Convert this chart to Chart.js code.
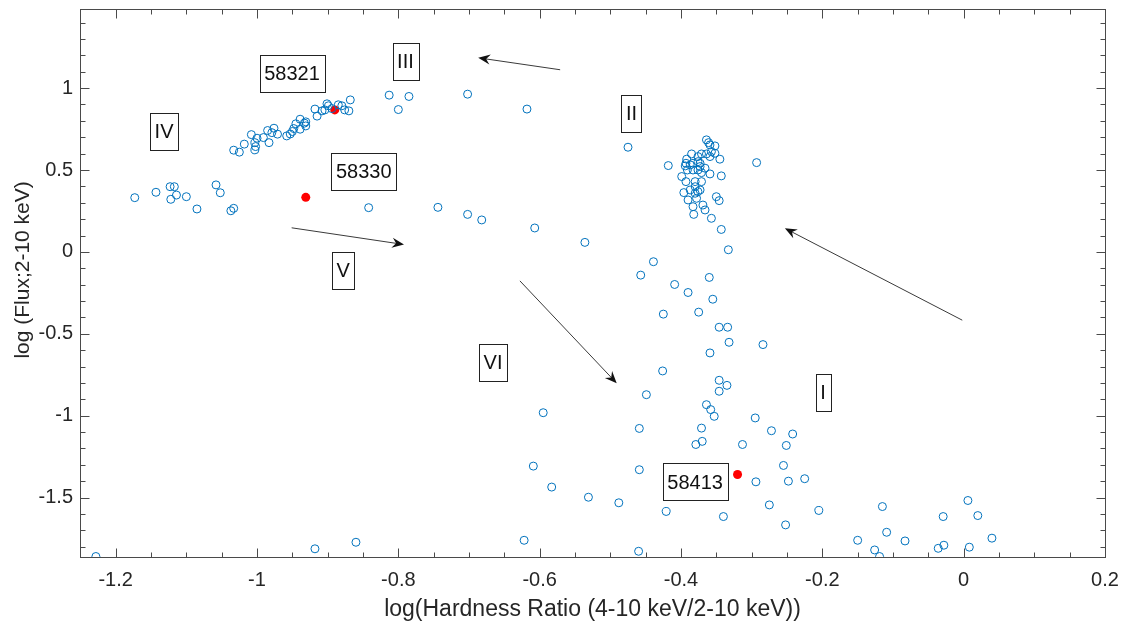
<!DOCTYPE html>
<html>
<head>
<meta charset="utf-8">
<script src="https://cdn.jsdelivr.net/npm/chart.js@4.4.1/dist/chart.umd.min.js"></script>
<style>
	html, body { margin: 0; padding: 0; background: #fff; }
	#wrap { width: 1124px; height: 623px; }
</style>
</head>
<body>
<div id="wrap"><canvas id="myChart" width="1124" height="623"></canvas></div>
<script>
// log(hardness ratio) and log(flux) of every observation (open circles)
var hardness = [
	-1.228, -0.918, -0.860,
	-1.173, -1.143, -1.123, -1.117, -1.122, -1.114, -1.100, -1.085, -1.058, -1.052, -1.037, -1.033, -0.842,
	-1.033, -1.025, -1.018, -1.008, -1.003, -1.002, -1.003, -1.000, -0.991, -0.985, -0.983, -0.979, -0.976,
	-0.971, -0.958, -0.953, -0.950, -0.948, -0.945, -0.939, -0.939, -0.933, -0.931, -0.931, -0.918, -0.915,
	-0.908, -0.904, -0.901, -0.899, -0.894, -0.885, -0.880, -0.876, -0.870, -0.868, -0.813, -0.800,
	-0.785, -0.702, -0.618, -0.475, -0.418, -0.293,
	-0.744, -0.702, -0.682, -0.607, -0.536,
	-0.364, -0.361, -0.359, -0.352, -0.357, -0.364, -0.371, -0.376, -0.385, -0.392, -0.393, -0.394, -0.391,
	-0.383, -0.376, -0.373, -0.376, -0.371, -0.366, -0.359, -0.399, -0.393, -0.380, -0.371, -0.380, -0.373,
	-0.376, -0.380, -0.387, -0.396, -0.390, -0.378, -0.383, -0.369, -0.366, -0.382, -0.357, -0.345, -0.343,
	-0.350, -0.346, -0.343, -0.333, -0.352, -0.359, -0.383, -0.373, -0.387,
	-0.439, -0.457, -0.360, -0.409, -0.390, -0.355, -0.425, -0.375, -0.346, -0.334, -0.332, -0.284, -0.359,
	-0.426, -0.346, -0.335, -0.346, -0.449, -0.595, -0.364, -0.358, -0.353, -0.295, -0.459, -0.371, -0.272,
	-0.242, -0.379, -0.370, -0.313, -0.251, -0.609, -0.459, -0.255, -0.294, -0.248, -0.583, -0.531, -0.488,
	-0.275, -0.421, -0.340, -0.252, -0.622, -0.460,
	-0.225, -0.205, -0.115, -0.109, -0.150, -0.126, -0.119, -0.083, -0.036, -0.028, -0.029, 0.006, 0.020,
	0.008, 0.040
];
var flux = [
	-1.860, -1.813, -1.773,
	0.331, 0.364, 0.398, 0.398, 0.321, 0.347, 0.337, 0.262, 0.409, 0.361, 0.251, 0.266, 0.270,
	0.621, 0.609, 0.658, 0.716, 0.667, 0.643, 0.623, 0.694, 0.698, 0.741, 0.667, 0.728, 0.755,
	0.719, 0.708, 0.720, 0.735, 0.753, 0.782, 0.810, 0.749, 0.786, 0.769, 0.794, 0.872, 0.829,
	0.861, 0.867, 0.904, 0.892, 0.875, 0.898, 0.892, 0.867, 0.861, 0.928, 0.957, 0.869,
	0.949, 0.963, 0.872, 0.639, 0.527, 0.545,
	0.272, 0.229, 0.195, 0.146, 0.058,
	0.684, 0.667, 0.653, 0.647, 0.612, 0.598, 0.598, 0.582, 0.598, 0.566, 0.541, 0.525, 0.500,
	0.541, 0.551, 0.521, 0.500, 0.484, 0.511, 0.476, 0.460, 0.429, 0.429, 0.429, 0.398, 0.378,
	0.368, 0.358, 0.378, 0.362, 0.317, 0.327, 0.276, 0.286, 0.256, 0.229, 0.205, 0.566, 0.464,
	0.337, 0.313, 0.137, 0.013, 0.602, 0.582, 0.500, 0.541, 0.531,
	-0.060, -0.142, -0.156, -0.199, -0.248, -0.289, -0.380, -0.368, -0.460, -0.460, -0.552, -0.566, -0.617,
	-0.727, -0.784, -0.815, -0.851, -0.872, -0.982, -0.933, -0.963, -1.004, -1.014, -1.078, -1.076, -1.092,
	-1.112, -1.176, -1.157, -1.176, -1.182, -1.308, -1.330, -1.304, -1.404, -1.400, -1.436, -1.498, -1.532,
	-1.545, -1.585, -1.616, -1.667, -1.761, -1.828,
	-1.385, -1.579, -1.555, -1.712, -1.761, -1.820, -1.860, -1.765, -1.810, -1.791, -1.616, -1.518, -1.610,
	-1.803, -1.748
];
// highlighted days (filled red)
var redHardness = [-0.931, -0.890, -0.320];
var redFlux = [0.333, 0.867, -1.359];

var xTicks = [-1.2, -1, -0.8, -0.6, -0.4, -0.2, 0, 0.2];
var yTicks = [-1.5, -1, -0.5, 0, 0.5, 1];

// boxed labels, placed in data units
var boxText = ['58321', 'III', 'II', 'IV', '58330', 'V', 'VI', 'I', '58413'];
var boxX = [-0.9505, -0.790, -0.470, -1.1316, -0.849, -0.878, -0.666, -0.199, -0.380];
var boxY = [1.0905, 1.161, 0.846, 0.733, 0.491, -0.114, -0.674, -0.860, -1.405];

// arrows: tail -> head, data units
var arrowX0 = [-0.571, -0.951, -0.628, -0.002];
var arrowY0 = [1.112, 0.147, -0.177, -0.417];
var arrowX1 = [-0.687, -0.792, -0.491, -0.253];
var arrowY1 = [1.185, 0.045, -0.802, 0.144];

var yTitle = 'log (Flux;2-10 keV)';
var axisColor = '#4a4a4a';
var textColor = '#262626';
var fontFamily = '"Liberation Sans", Arial, Helvetica, sans-serif';

function pairs(xs, ys){
	return xs.map(function(v, i){ return {x: v, y: ys[i]}; });
}
function fmt(v){
	return String(Math.round(v * 100) / 100);
}

var frame = {
	id: 'frame',
	afterDatasetsDraw: function(chart){
		var ctx = chart.ctx;
		var a = chart.chartArea;
		var xs = chart.scales.x, ys = chart.scales.y;
		var L = Math.round(a.left) + 0.5, R = Math.round(a.right) + 0.5;
		var T = Math.round(a.top) + 0.5, B = Math.round(a.bottom) + 0.5;
		ctx.save();
		ctx.strokeStyle = axisColor;
		ctx.lineWidth = 1;
		ctx.strokeRect(L, T, R - L, B - T);
		ctx.beginPath();
		// x ticks every 0.05, long every 0.2
		for (var k = -25; k <= 4; k++){
			var px = Math.round(xs.getPixelForValue(k * 0.05)) + 0.5;
			var len = (k % 4 === 0) ? 9 : 5;
			ctx.moveTo(px, B); ctx.lineTo(px, B - len);
			ctx.moveTo(px, T); ctx.lineTo(px, T + len);
		}
		// y ticks every 0.1, long every 0.5
		for (var j = -18; j <= 14; j++){
			var py = Math.round(ys.getPixelForValue(j * 0.1)) + 0.5;
			var l2 = (j % 5 === 0) ? 9 : 5;
			ctx.moveTo(L, py); ctx.lineTo(L + l2, py);
			ctx.moveTo(R, py); ctx.lineTo(R - l2, py);
		}
		ctx.stroke();

		// y axis title (matlab puts it a bit above the middle)
		ctx.translate(23, ys.getPixelForValue(-0.11));
		ctx.rotate(-Math.PI / 2);
		ctx.font = '21px ' + fontFamily;
		ctx.fillStyle = textColor;
		ctx.textAlign = 'center';
		ctx.textBaseline = 'middle';
		ctx.fillText(yTitle, 0, 0);
		ctx.restore();
	},
	afterDraw: function(chart){
		var ctx = chart.ctx;
		var xs = chart.scales.x, ys = chart.scales.y;
		ctx.save();
		// arrows
		ctx.strokeStyle = '#3a3a3a';
		ctx.fillStyle = '#111';
		ctx.lineWidth = 1;
		for (var i = 0; i < arrowX0.length; i++){
			var x0 = xs.getPixelForValue(arrowX0[i]), y0 = ys.getPixelForValue(arrowY0[i]);
			var x1 = xs.getPixelForValue(arrowX1[i]), y1 = ys.getPixelForValue(arrowY1[i]);
			var ang = Math.atan2(y1 - y0, x1 - x0);
			var c = Math.cos(ang), s = Math.sin(ang);
			ctx.beginPath();
			ctx.moveTo(x0, y0);
			ctx.lineTo(x1 - 6 * c, y1 - 6 * s);
			ctx.stroke();
			ctx.beginPath();
			ctx.moveTo(x1, y1);
			ctx.lineTo(x1 - 12 * c - 5 * s, y1 - 12 * s + 5 * c);
			ctx.lineTo(x1 - 8 * c, y1 - 8 * s);
			ctx.lineTo(x1 - 12 * c + 5 * s, y1 - 12 * s - 5 * c);
			ctx.closePath();
			ctx.fill();
		}
		// boxed labels
		ctx.font = '20px ' + fontFamily;
		ctx.textAlign = 'center';
		ctx.textBaseline = 'middle';
		ctx.strokeStyle = '#222';
		for (var b = 0; b < boxText.length; b++){
			var cx = xs.getPixelForValue(boxX[b]), cy = ys.getPixelForValue(boxY[b]);
			var w = ctx.measureText(boxText[b]).width + 9;
			var h = 37;
			ctx.strokeRect(Math.round(cx - w / 2) + 0.5, Math.round(cy - h / 2) + 0.5, Math.round(w), h);
			ctx.fillStyle = '#111';
			ctx.fillText(boxText[b], cx, cy + 1);
		}
		ctx.restore();
	}
};

var ctx = document.getElementById('myChart').getContext('2d');
var chart = new Chart(ctx, {
	type: 'scatter',
	data: {
		datasets: [
		{
			data: pairs(hardness, flux),
			pointStyle: 'circle',
			pointRadius: 4,
			pointBorderWidth: 1,
			pointBorderColor: '#0072BD',
			pointBackgroundColor: 'rgba(0,0,0,0)',
			showLine: false
		},
		{
			data: pairs(redHardness, redFlux),
			pointStyle: 'circle',
			pointRadius: 4.5,
			pointBorderWidth: 0,
			pointBackgroundColor: '#ff0000',
			showLine: false
		}]
	},
	options: {
		responsive: false,
		animation: false,
		events: [],
		layout: { padding: { top: 9, right: 19, left: 0, bottom: 0 } },
		plugins: { legend: { display: false }, tooltip: { enabled: false } },
		scales: {
			x: {
				type: 'linear',
				min: -1.2505,
				max: 0.2,
				grid: { display: false, drawTicks: false },
				border: { display: false },
				afterBuildTicks: function(scale){
					scale.ticks = xTicks.map(function(v){ return {value: v}; });
				},
				afterFit: function(scale){
					scale.height = 66;
					scale.paddingLeft = 0;
					scale.paddingRight = 0;
				},
				ticks: {
					padding: 11,
					color: textColor,
					maxRotation: 0,
					font: { family: fontFamily, size: 20 },
					callback: function(v){ return fmt(v); }
				},
				title: {
					display: true,
					text: 'log(Hardness Ratio (4-10 keV/2-10 keV))',
					color: textColor,
					font: { family: fontFamily, size: 23 },
					padding: { top: 0, bottom: 0 }
				}
			},
			y: {
				type: 'linear',
				min: -1.863,
				max: 1.483,
				grid: { display: false, drawTicks: false },
				border: { display: false },
				afterBuildTicks: function(scale){
					scale.ticks = yTicks.map(function(v){ return {value: v}; });
				},
				afterFit: function(scale){
					scale.width = 80;
					scale.paddingTop = 0;
					scale.paddingBottom = 0;
				},
				ticks: {
					padding: 7,
					color: textColor,
					font: { family: fontFamily, size: 20 },
					callback: function(v){ return fmt(v); }
				}
			}
		}
	},
	plugins: [frame]
});
</script>
</body>
</html>
